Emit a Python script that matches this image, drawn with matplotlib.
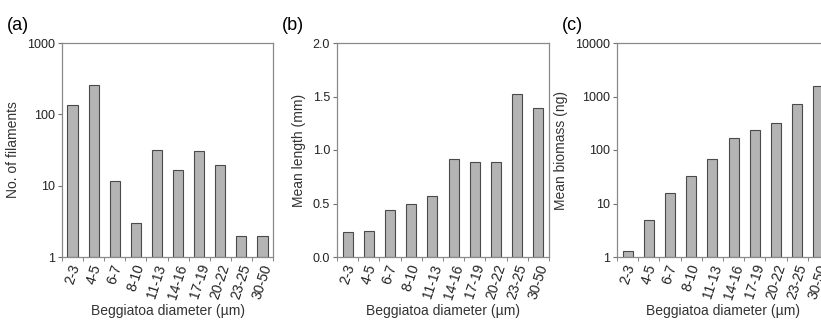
import numpy as np
import matplotlib
matplotlib.use("Agg")
import matplotlib.pyplot as plt
from matplotlib.ticker import FixedLocator, NullFormatter

plt.rcParams['font.family'] = ['Liberation Sans', 'DejaVu Sans']

# データ
diameter = ["2-3", "4-5", "6-7", "8-10", "11-13", "14-16", "17-19", "20-22", "23-25", "30-50"]
n_filaments = [137, 255, 11.6, 3.0, 32, 16.6, 30.5, 19.8, 1.95, 1.95]
mean_length = [0.235, 0.24, 0.44, 0.495, 0.57, 0.92, 0.89, 0.89, 1.525, 1.39]
mean_biomass = [1.3, 5.0, 15.5, 33, 67, 167, 237, 320, 727, 1580]

fig = plt.figure(figsize=(8.21, 3.25), dpi=100)
W, H = 821.0, 325.0

def make_ax(left, right, top=43, bottom=257):
    return fig.add_axes([left / W, 1 - bottom / H, (right - left) / W, (bottom - top) / H])

def style(ax, values, ylabel, panel, log, ylim, yticks, yticklabels):
    x = np.arange(len(diameter))
    ax.bar(x, values, width=0.48, color="#b4b4b4", edgecolor="#4a4a4a", linewidth=0.8,
           bottom=1 if log else 0)
    if log:
        ax.set_yscale("log")
    ax.set_ylim(*ylim)
    ax.set_xlim(-0.5, len(diameter) - 0.5)
    ax.set_yticks(yticks)
    ax.set_yticklabels(yticklabels)
    ax.yaxis.set_minor_locator(FixedLocator([]))
    ax.set_xticks(x)
    ax.set_xticklabels(diameter, rotation=72, ha="center", va="top", fontsize=10, color="#222222")
    ax.xaxis.set_minor_locator(FixedLocator(np.arange(-0.5, len(diameter), 1.0)))
    ax.xaxis.set_minor_formatter(NullFormatter())
    ax.tick_params(axis="x", which="major", length=0, pad=4)
    ax.tick_params(axis="x", which="minor", length=3, color="#707070", direction="out")
    ax.tick_params(axis="y", length=3, color="#707070", labelsize=9, labelcolor="#222222", pad=2)
    for s in ax.spines.values():
        s.set_color("#8a8a8a")
        s.set_linewidth(0.9)
    ax.set_ylabel(ylabel, fontsize=10, color="#333333", labelpad=5)
    ax.set_xlabel("Beggiatoa diameter (\u00b5m)", fontsize=10, color="#333333", labelpad=2)
    ax.text(-0.26, 1.04, panel, transform=ax.transAxes, fontsize=13, ha="left", va="bottom")

ax1 = make_ax(62, 273)
style(ax1, np.array(n_filaments) - 1, "No. of filaments", "(a)", True, (1, 1000),
      [1, 10, 100, 1000], ["1", "10", "100", "1000"])

ax2 = make_ax(337, 549)
style(ax2, mean_length, "Mean length (mm)", "(b)", False, (0, 2.0),
      [0, 0.5, 1.0, 1.5, 2.0], ["0.0", "0.5", "1.0", "1.5", "2.0"])

ax3 = make_ax(617, 829)
style(ax3, np.array(mean_biomass) - 1, "Mean biomass (ng)", "(c)", True, (1, 10000),
      [1, 10, 100, 1000, 10000], ["1", "10", "100", "1000", "10000"])

fig.savefig("out.png", dpi=100)
